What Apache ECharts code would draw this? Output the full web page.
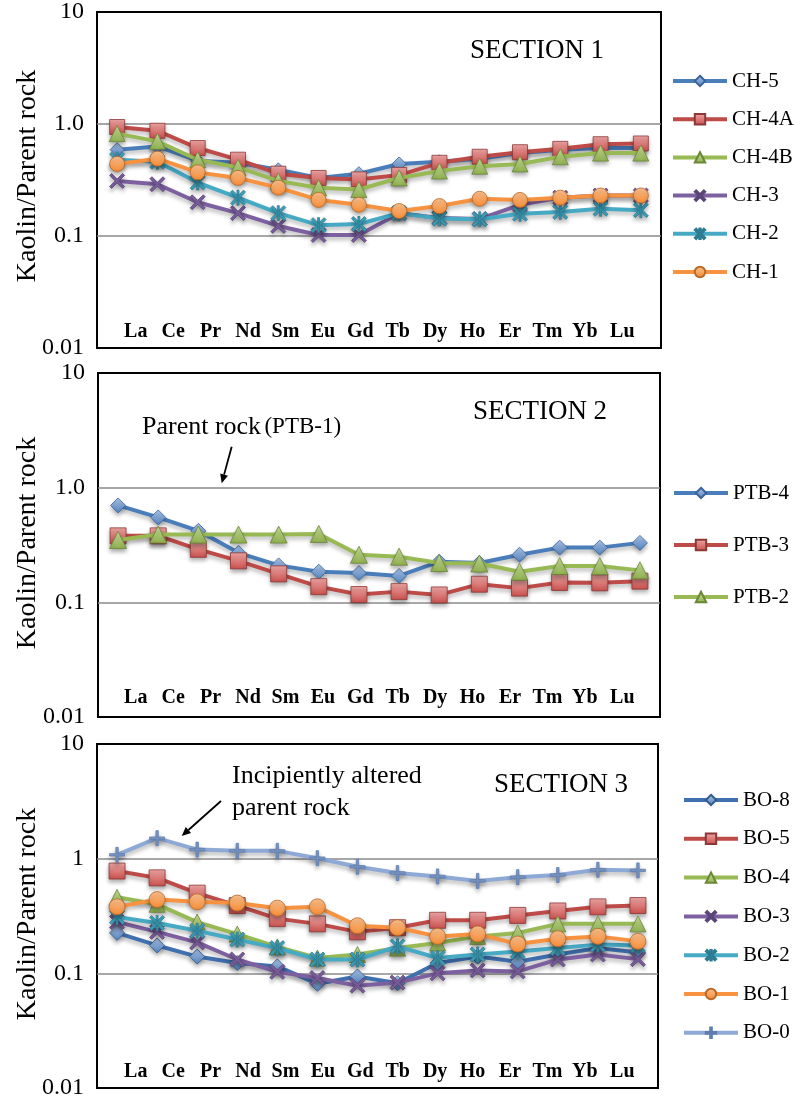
<!DOCTYPE html>
<html><head><meta charset="utf-8">
<script src="https://cdn.jsdelivr.net/npm/echarts@6/dist/echarts.min.js"></script>
<style>html,body{margin:0;padding:0;background:#fff}#c{width:796px;height:1100px}</style>
</head><body><div id="c"></div>
<script>
// ---------- data ----------
const elements = ['La','Ce','Pr','Nd','Sm','Eu','Gd','Tb','Dy','Ho','Er','Tm','Yb','Lu'];
const yTickLabelsA = ['0.01','0.1','1.0','10'];
const yTickLabelsB = ['0.01','0.1','1','10'];
const sectionTitles = ['SECTION 1','SECTION 2','SECTION 3'];
const yName = 'Kaolin/Parent rock';

const names1 = ['CH-5','CH-4A','CH-4B','CH-3','CH-2','CH-1'];
const ch5  = [0.59,0.63,0.47,0.45,0.39,0.33,0.36,0.44,0.46,0.49,0.55,0.59,0.61,0.61];
const ch4a = [0.94,0.87,0.61,0.48,0.36,0.33,0.32,0.35,0.45,0.51,0.56,0.60,0.66,0.67];
const ch4b = [0.82,0.70,0.48,0.41,0.31,0.27,0.26,0.33,0.38,0.42,0.44,0.51,0.55,0.55];
const ch3  = [0.31,0.29,0.20,0.16,0.123,0.102,0.102,0.16,0.145,0.142,0.19,0.22,0.23,0.23];
const ch2  = [0.48,0.46,0.30,0.22,0.16,0.125,0.128,0.16,0.143,0.141,0.158,0.164,0.175,0.17];
const ch1  = [0.44,0.49,0.37,0.33,0.27,0.21,0.19,0.167,0.185,0.215,0.21,0.22,0.23,0.23];

const names2 = ['PTB-4','PTB-3','PTB-2'];
const ptb4 = [0.70,0.55,0.42,0.27,0.21,0.185,0.18,0.17,0.226,0.22,0.26,0.30,0.30,0.33];
const ptb3 = [0.38,0.38,0.29,0.23,0.177,0.137,0.117,0.124,0.116,0.144,0.133,0.149,0.148,0.153];
const ptb2 = [0.35,0.39,0.39,0.39,0.39,0.395,0.26,0.25,0.22,0.218,0.185,0.207,0.207,0.19];

const names3 = ['BO-8','BO-5','BO-4','BO-3','BO-2','BO-1','BO-0'];
const bo8 = [0.225,0.175,0.14,0.123,0.115,0.081,0.094,0.082,0.123,0.14,0.126,0.146,0.166,0.152];
const bo5 = [0.78,0.68,0.50,0.39,0.30,0.27,0.23,0.25,0.29,0.29,0.32,0.35,0.38,0.39];
const bo4 = [0.46,0.40,0.28,0.22,0.17,0.136,0.146,0.166,0.184,0.21,0.225,0.27,0.27,0.27];
const bo3 = [0.28,0.23,0.186,0.132,0.103,0.091,0.078,0.083,0.10,0.106,0.104,0.132,0.146,0.133];
const bo2 = [0.31,0.275,0.235,0.197,0.166,0.132,0.132,0.172,0.136,0.146,0.155,0.166,0.178,0.175];
const bo1 = [0.38,0.44,0.42,0.41,0.37,0.38,0.26,0.25,0.21,0.22,0.18,0.20,0.21,0.19];
const bo0 = [1.08,1.51,1.20,1.17,1.17,1.01,0.85,0.75,0.70,0.64,0.69,0.72,0.80,0.79];

const annoPTB = ['Parent rock', '(PTB-1)'];
const annoBO = ['Incipiently altered', 'parent rock'];

// ---------- styles ----------
const FONT = 'Liberation Serif';
const P_X = 'path://M0,1.3L1.3,0L5,3.7L8.7,0L10,1.3L6.3,5L10,8.7L8.7,10L5,6.3L1.3,10L0,8.7L3.7,5Z';
const P_AST = P_X + 'M4.35,0L5.65,0L5.65,10L4.35,10Z';
const P_PLUS = 'path://M4.2,0L5.8,0L5.8,4.2L10,4.2L10,5.8L5.8,5.8L5.8,10L4.2,10L4.2,5.8L0,5.8L0,4.2L4.2,4.2Z';
const ST = {
  blue:   {line:'#4A7EBB', fill:'#4F81BD', light:'#AFC6E8', border:'#3A6399', symbol:'diamond'},
  red:    {line:'#BE4B48', fill:'#C84F4C', light:'#F0A8A6', border:'#8C3836', symbol:'rect'},
  green:  {line:'#98B954', fill:'#8FB04E', light:'#C9E09A', border:'#6A8738', symbol:'triangle'},
  purple: {line:'#7D60A0', fill:'#7D60A0', light:'#7D60A0', border:'#5A4478', symbol:P_X},
  teal:   {line:'#46AAC5', fill:'#3FA3BE', light:'#3FA3BE', border:'#2D7C91', symbol:P_AST},
  orange: {line:'#F69240', fill:'#F58A33', light:'#FCC290', border:'#B86A2A', symbol:'circle'},
  lblue:  {line:'#8EA9D6', fill:'#7F9CCB', light:'#7F9CCB', border:'#5F7DAE', symbol:P_PLUS},
  dblue:  {line:'#4070B0', fill:'#4F81BD', light:'#AFC6E8', border:'#345A8C', symbol:'diamond'}
};

function mk(name, data, gi, st, size, order){
  return {
    name, type:'line', data, xAxisIndex:gi, yAxisIndex:gi,
    z: 2 + order, symbol: st.symbol, symbolSize: size,
    color: st.line,
    lineStyle:{color:st.line, width:4, shadowColor:'rgba(0,0,0,0.28)', shadowBlur:4, shadowOffsetY:3},
    itemStyle:{
      color:{type:'linear', x:0, y:0, x2:0, y2:1, colorStops:[{offset:0,color:st.light},{offset:1,color:st.fill}]},
      borderColor: st.border, borderWidth: 0.8,
      shadowColor:'rgba(0,0,0,0.3)', shadowBlur:4, shadowOffsetY:3
    },
    emphasis:{disabled:true}, animation:false
  };
}

const grids = [
  {left:97, top:8, width:564, height:340},
  {left:98, top:373, width:562, height:344},
  {left:97, top:744, width:561, height:344}
];
const labelGrids = [
  {left:117, top:321, width:524, height:1},
  {left:117, top:687, width:524, height:1},
  {left:117, top:1061, width:524, height:1}
];

const tickSets = [yTickLabelsA, yTickLabelsA, yTickLabelsB];

const option = {
  animation:false,
  backgroundColor:'#fff',
  grid: grids.map(g => Object.assign({show:true, borderColor:'#000', borderWidth:2, backgroundColor:'transparent'}, g))
        .concat(labelGrids.map(g => Object.assign({show:false}, g))),
  xAxis: [0,1,2].map(i => ({
      type:'category', gridIndex:i, data:elements, boundaryGap:true,
      axisLine:{show:false}, axisTick:{show:false}, axisLabel:{show:false}, splitLine:{show:false}
    })).concat([0,1,2].map(i => ({
      type:'category', gridIndex:3+i, data:elements, boundaryGap:true, position:'bottom',
      axisLine:{show:false}, axisTick:{show:false}, splitLine:{show:false},
      axisLabel:{show:true, margin:0, interval:0, fontFamily:FONT, fontSize:20, fontWeight:'bold', color:'#000'}
    }))),
  yAxis: [0,1,2].map(i => ({
      type:'log', logBase:10, gridIndex:i, min:0.01, max:10,
      axisLine:{show:false}, axisTick:{show:false},
      splitLine:{show:true, showMinLine:false, showMaxLine:false, lineStyle:{color:'#8a8a8a', width:1.5}},
      axisLabel:{margin:13, fontFamily:FONT, fontSize:24, color:'#000',
        formatter: v => tickSets[i][Math.round(Math.log10(v)) + 2]}
    })).concat([0,1,2].map(i => ({type:'value', gridIndex:3+i, show:false}))),
  legend: [
    {data:names1, left:671, top:70, itemGap:16.2},
    {data:names2, left:672, top:482, itemGap:30},
    {data:names3, left:682, top:789, itemGap:16.8}
  ].map(l => Object.assign({orient:'vertical', itemWidth:54, itemHeight:13, padding:0,
      selectedMode:false, lineStyle:{width:4},
      textStyle:{fontFamily:FONT, fontSize:21, color:'#000', lineHeight:22}}, l)),
  series: [
    mk(names1[0], ch5, 0, ST.blue, 14, 0),
    mk(names1[1], ch4a, 0, ST.red, 15, 1),
    mk(names1[2], ch4b, 0, ST.green, 16, 2),
    mk(names1[3], ch3, 0, ST.purple, 15, 3),
    mk(names1[4], ch2, 0, ST.teal, 15, 4),
    mk(names1[5], ch1, 0, ST.orange, 15, 5),
    mk(names2[0], ptb4, 1, ST.blue, 15, 0),
    mk(names2[1], ptb3, 1, ST.red, 16, 1),
    mk(names2[2], ptb2, 1, ST.green, 17, 2),
    mk(names3[0], bo8, 2, ST.dblue, 15, 0),
    mk(names3[1], bo5, 2, ST.red, 16, 1),
    mk(names3[2], bo4, 2, ST.green, 16, 2),
    mk(names3[3], bo3, 2, ST.purple, 15, 3),
    mk(names3[4], bo2, 2, ST.teal, 15, 4),
    mk(names3[5], bo1, 2, ST.orange, 16, 5),
    mk(names3[6], bo0, 2, ST.lblue, 15, 6)
  ]
};

function arrow(x1, y1, x2, y2){
  const dx = x2 - x1, dy = y2 - y1, L = Math.hypot(dx, dy);
  const ux = dx / L, uy = dy / L, nx = -uy, ny = ux;
  const hl = 9, hw = 4;
  const bx = x2 - hl * ux, by = y2 - hl * uy;
  return [
    {type:'line', shape:{x1, y1, x2:bx, y2:by}, style:{stroke:'#000', lineWidth:1.8}, z:50},
    {type:'polygon', shape:{points:[[x2,y2],[bx+hw*nx,by+hw*ny],[bx-hw*nx,by-hw*ny]]}, style:{fill:'#000'}, z:50}
  ];
}

const yNameTexts = grids.map(g => ({
  type:'text', x:28, y:g.top + g.height / 2 - 2, rotation:Math.PI / 2, z:50,
  style:{text:yName, fontFamily:FONT, fontSize:28, fill:'#000', align:'center', verticalAlign:'middle'}
}));

option.graphic = [
  {type:'text', x:537, y:51, z:50, style:{text:sectionTitles[0], fontFamily:FONT, fontSize:27, fill:'#000', align:'center', verticalAlign:'middle'}},
  {type:'text', x:540, y:412, z:50, style:{text:sectionTitles[1], fontFamily:FONT, fontSize:27, fill:'#000', align:'center', verticalAlign:'middle'}},
  {type:'text', x:561, y:785, z:50, style:{text:sectionTitles[2], fontFamily:FONT, fontSize:27, fill:'#000', align:'center', verticalAlign:'middle'}},
  {type:'text', x:142, y:427, z:50, style:{
     text:'{a|' + annoPTB[0] + '} {b|' + annoPTB[1] + '}', verticalAlign:'middle',
     rich:{a:{fontFamily:FONT, fontSize:26, fill:'#000'}, b:{fontFamily:FONT, fontSize:23, fill:'#000'}}}},
  {type:'text', x:232, y:760, z:50, style:{text:annoBO.join('\n'), fontFamily:FONT, fontSize:26, lineHeight:32, fill:'#000', verticalAlign:'top'}}
].concat(yNameTexts).concat(arrow(231.7, 446.7, 221.7, 483.3)).concat(arrow(221, 801, 181.7, 836));

const chart = echarts.init(document.getElementById('c'), null, {renderer:'canvas'});
chart.setOption(option);
</script>
</body></html>
